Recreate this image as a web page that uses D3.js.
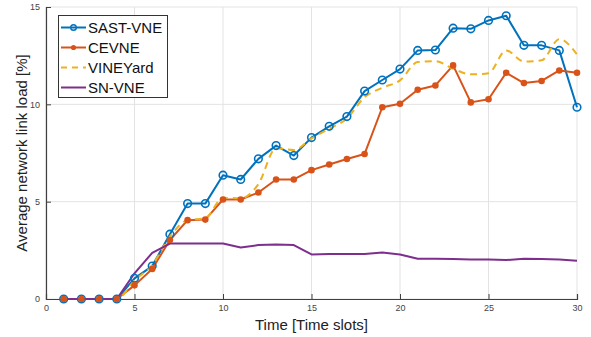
<!DOCTYPE html>
<html>
<head>
<meta charset="utf-8">
<script src="https://cdn.jsdelivr.net/npm/d3@7/dist/d3.min.js"></script>
<style>
  html, body { margin: 0; padding: 0; background: #fff; }
  svg { display: block; font-family: "Liberation Sans", Arial, Helvetica, sans-serif; }
</style>
</head>
<body>
<svg id="chart" width="591" height="337"></svg>
<script>
// Time slots 1..30
const timeSlots = d3.range(1, 31);

// Average network link load [%] per algorithm
const sastVne = [0, 0, 0, 0, 1.06, 1.69, 3.33, 4.9, 4.9, 6.36,
                 6.14, 7.2, 7.88, 7.37, 8.29, 8.87, 9.37, 10.68, 11.25, 11.81,
                 12.77, 12.79, 13.91, 13.88, 14.31, 14.55, 13.03, 13.03, 12.77, 9.85];
const cevne = [0, 0, 0, 0, 0.7, 1.54, 3.03, 4.05, 4.08, 5.11,
               5.11, 5.47, 6.14, 6.14, 6.62, 6.91, 7.19, 7.45, 9.85, 10.03,
               10.75, 10.97, 12.0, 10.1, 10.26, 11.62, 11.09, 11.2, 11.74, 11.62];
const vineyard = [0, 0, 0, 0, 0.95, 1.75, 3.2, 4.05, 4.15, 5.2,
                  5.17, 5.9, 7.75, 7.65, 8.25, 8.75, 9.27, 10.37, 10.85, 11.23,
                  12.17, 12.22, 11.83, 11.54, 11.6, 12.77, 12.2, 12.26, 13.35, 12.56];
const snVne = [0, 0, 0, 0, 1.32, 2.37, 2.85, 2.85, 2.85, 2.85,
               2.65, 2.77, 2.8, 2.77, 2.29, 2.31, 2.31, 2.31, 2.39, 2.29,
               2.07, 2.07, 2.05, 2.03, 2.03, 2.0, 2.07, 2.05, 2.03, 1.96];

const seriesNames = ["SAST-VNE", "CEVNE", "VINEYard", "SN-VNE"];
const seriesValues = [sastVne, cevne, vineyard, snVne];
const seriesColors = ["#0072BD", "#D95319", "#EDB120", "#7E2F8E"];

const xTicks = [0, 5, 10, 15, 20, 25, 30];
const yTicks = [0, 5, 10, 15];

const svg = d3.select("#chart");
const margin = { left: 46, right: 14, top: 7, bottom: 38 };
const W = 591, H = 337;

const x = d3.scaleLinear().domain([0, 30]).range([margin.left, W - margin.right]);
const y = d3.scaleLinear().domain([0, 15]).range([H - margin.bottom, margin.top]);

// grid
const grid = svg.append("g").attr("stroke", "#e3e3e3").attr("stroke-width", 1);
xTicks.forEach(t => grid.append("line")
  .attr("x1", x(t)).attr("x2", x(t)).attr("y1", y(0)).attr("y2", y(15)));
yTicks.forEach(t => grid.append("line")
  .attr("x1", x(0)).attr("x2", x(30)).attr("y1", y(t)).attr("y2", y(t)));

// axes
const axisColor = "#404040";
const xAxis = d3.axisBottom(x).tickValues(xTicks).tickSize(-5).tickPadding(6);
const yAxis = d3.axisLeft(y).tickValues(yTicks).tickSize(-5).tickPadding(6);

const gx = svg.append("g").attr("transform", `translate(0,${y(0)})`).call(xAxis);
const gy = svg.append("g").attr("transform", `translate(${x(0)},0)`).call(yAxis);
[gx, gy].forEach(g => {
  g.select(".domain").attr("stroke", axisColor).attr("stroke-width", 1.2);
  g.selectAll(".tick line").attr("stroke", axisColor).attr("stroke-width", 1);
  g.selectAll(".tick text").attr("fill", "#444").attr("font-size", 9)
    .attr("font-family", "Liberation Sans, Arial, sans-serif");
});

// axis titles
svg.append("text")
  .attr("x", (x(0) + x(30)) / 2).attr("y", 330)
  .attr("text-anchor", "middle").attr("font-size", 15).attr("fill", "#222")
  .text("Time [Time slots]");
svg.append("text")
  .attr("transform", `translate(27,${(y(0) + y(15)) / 2}) rotate(-90)`)
  .attr("text-anchor", "middle").attr("font-size", 15).attr("fill", "#222")
  .text("Average network link load [%]");

// series lines
const plot = svg.append("g");
seriesValues.forEach((vals, i) => {
  const data = vals.map((v, k) => [timeSlots[k], v]);
  const line = d3.line()
    .x(d => x(d[0])).y(d => y(d[1]))
    .curve(i === 2 ? d3.curveMonotoneX : d3.curveLinear);
  const path = plot.append("path").datum(data)
    .attr("fill", "none").attr("stroke", seriesColors[i])
    .attr("stroke-width", 2).attr("stroke-linejoin", "round")
    .attr("d", line);
  if (i === 2) path.attr("stroke-dasharray", "7,5");
});

// markers
const sastPts = sastVne.map((v, k) => [timeSlots[k], v]);
plot.selectAll(".sast").data(sastPts).enter().append("circle")
  .attr("cx", d => x(d[0])).attr("cy", d => y(d[1])).attr("r", 3.8)
  .attr("fill", "none").attr("stroke", seriesColors[0]).attr("stroke-width", 1.6);
const cevPts = cevne.map((v, k) => [timeSlots[k], v]);
plot.selectAll(".cev").data(cevPts).enter().append("circle")
  .attr("cx", d => x(d[0])).attr("cy", d => y(d[1])).attr("r", 3.3)
  .attr("fill", seriesColors[1]);

// legend
const lg = svg.append("g");
lg.append("rect").attr("x", 58.5).attr("y", 15.5).attr("width", 109).attr("height", 82)
  .attr("fill", "#fff").attr("stroke", "#333").attr("stroke-width", 1);
seriesNames.forEach((name, i) => {
  const cy = 27.5 + i * 20;
  const l = lg.append("line").attr("x1", 61).attr("x2", 86).attr("y1", cy).attr("y2", cy)
    .attr("stroke", seriesColors[i]).attr("stroke-width", 2);
  if (i === 2) l.attr("stroke-dasharray", "6,5");
  if (i === 0) lg.append("circle").attr("cx", 73.5).attr("cy", cy).attr("r", 2.8)
    .attr("fill", "none").attr("stroke", seriesColors[0]).attr("stroke-width", 1.4);
  if (i === 1) lg.append("circle").attr("cx", 73.5).attr("cy", cy).attr("r", 2.6)
    .attr("fill", seriesColors[1]);
  lg.append("text").attr("x", 88).attr("y", cy + 5.5).attr("font-size", 15)
    .attr("fill", "#111").text(name);
});
</script>
</body>
</html>
